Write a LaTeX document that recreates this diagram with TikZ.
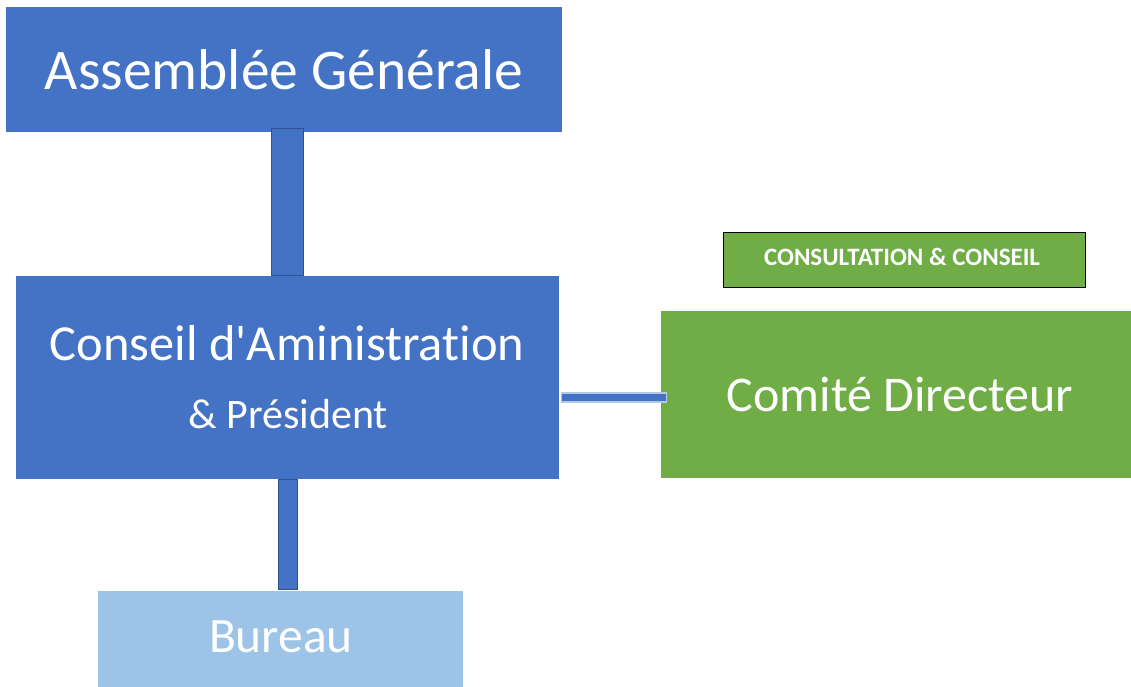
\documentclass[tikz,border=0pt]{standalone}
\usepackage{fontspec}
\setmainfont[Ligatures=NoCommon]{Carlito}
\definecolor{blueA}{HTML}{4472C4}
\definecolor{blueB}{HTML}{2F528F}
\definecolor{blueL}{HTML}{9DC3E6}
\definecolor{blueP}{HTML}{B4C7E7}
\definecolor{greenA}{HTML}{70AD47}
\begin{document}
\begin{tikzpicture}[x=1pt,y=-1pt,
  box/.style={inner sep=0pt,text=white,align=center},
  bar/.style={fill=blueA,draw=blueB,line width=1pt}]
\useasboundingbox (0,0) rectangle (1131,687);
% boxes
\fill[blueA] (6,7) rectangle (562,132);
\node[box,font=\fontsize{57.5}{62}\selectfont] (ag) at (284,70) {Assemblée Générale};
\fill[blueA] (16,276) rectangle (559,479);
\node[box,font=\fontsize{50.5}{56}\selectfont] (ca) at (287,343) {Conseil d\textquotesingle Aministration};
\node[box,font=\fontsize{42}{48}\selectfont] (pr) at (288,414) {\& Président};
\fill[blueL] (98,591) rectangle (463,687);
\node[box,font=\fontsize{49.5}{54}\selectfont] (bu) at (281,637) {Bureau};
\fill[greenA] (661,311) rectangle (1131,478);
\node[box,font=\fontsize{50}{56}\selectfont] (cd) at (900,394) {Comité Directeur};
\node[draw=black,line width=1pt,fill=greenA,minimum width=362pt,minimum height=55pt,inner sep=0pt] (cc) at (904.5,260) {};
\node[box,font=\bfseries\fontsize{25}{30}\selectfont] (cct) at (902,257) {CONSULTATION \& CONSEIL};
% connectors
\node[bar,minimum width=32pt,minimum height=146pt,inner sep=0pt] (c1) at (287,202) {};
\node[bar,minimum width=19pt,minimum height=110pt,inner sep=0pt] (c2) at (287.5,534) {};
\fill[blueP] (561,391.5) rectangle (667,402.5);
\fill[blueA] (562,393.5) rectangle (666,400.5);
\end{tikzpicture}
\end{document}
